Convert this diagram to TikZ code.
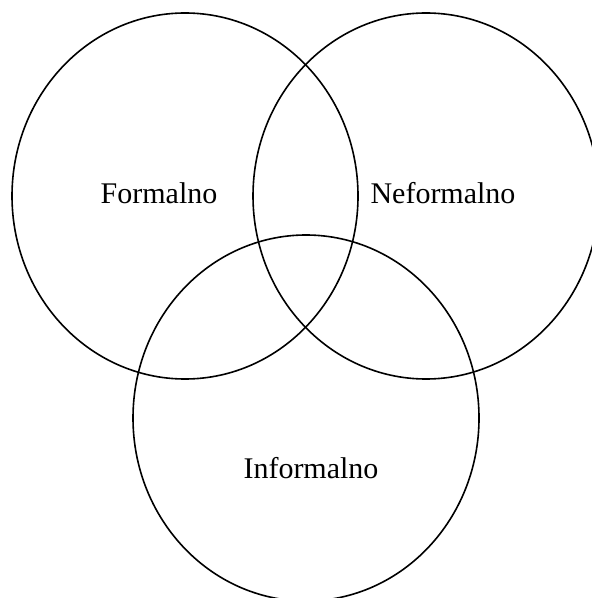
\documentclass[tikz,border=0pt]{standalone}
\usepackage{fontspec}
\setmainfont{Liberation Serif}
\usetikzlibrary{positioning,shapes.geometric}

\begin{document}
\begin{tikzpicture}[x=0.5pt, y=-0.5pt]
    % Define styles
    \tikzstyle{setcircle} = [ellipse, draw=black, line width=0.8pt, minimum width=173pt, minimum height=183pt, inner sep=0pt]
    \tikzstyle{setlabel} = [font=\fontsize{15}{18}\selectfont, text centered]

    % Frame
    \useasboundingbox (0,0) rectangle (592,598);
    \clip (0,0) rectangle (592,598);

    % Circles
    \node [setcircle] (formal) at (185,196) {};
    \node [setcircle] (neformal) at (426,196) {};
    \node [setcircle] (informal) at (306,418) {};

    % Labels
    \node [setlabel] (formaltext) at (159,193) {Formalno};
    \node [setlabel] (neformaltext) at (443,193) {Neformalno};
    \node [setlabel] (informaltext) at (311,468) {Informalno};
\end{tikzpicture}
\end{document}
